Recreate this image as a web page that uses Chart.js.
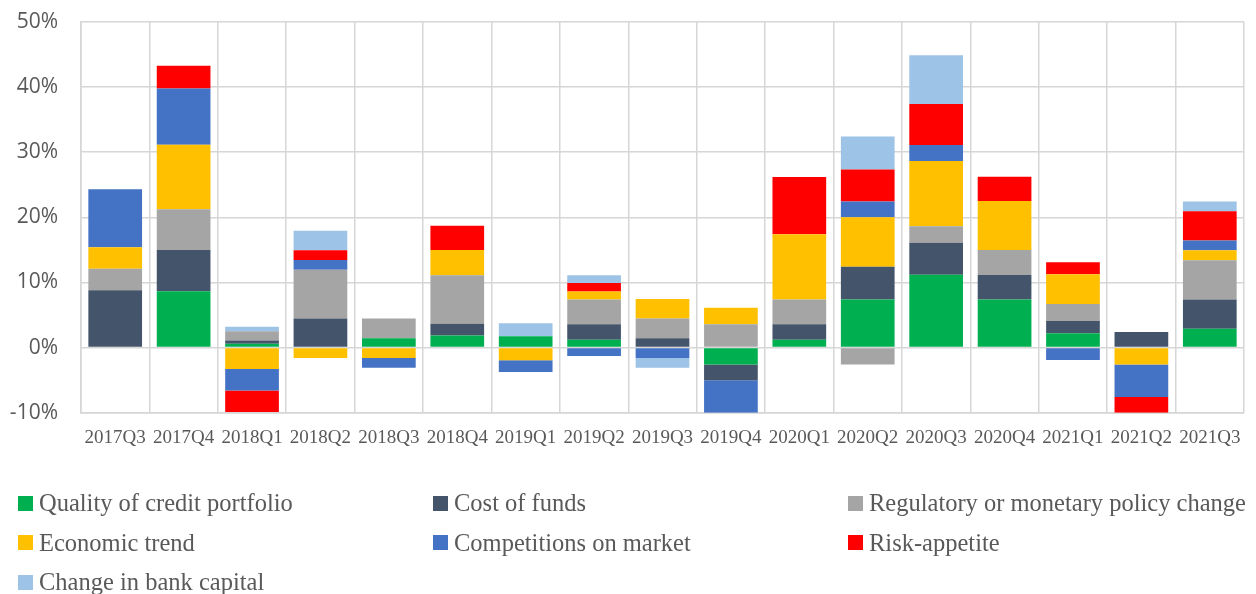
<!DOCTYPE html>
<html>
<head>
<meta charset="utf-8">
<script src="https://cdn.jsdelivr.net/npm/chart.js@4/dist/chart.umd.min.js"></script>
<style>
html,body{margin:0;padding:0;background:#fff;}
#wrap{position:relative;width:1256px;height:594px;overflow:hidden;background:#fff;}
#chart{position:absolute;left:0;top:0;}
#legend{position:absolute;left:0;top:0;width:1256px;height:594px;font-family:"Liberation Serif","Times New Roman",serif;font-size:24.5px;color:#595959;}
.li{position:absolute;display:flex;align-items:center;white-space:nowrap;height:30px;}
.sw{width:15px;height:15px;margin-right:6px;flex:none;}
</style>
</head>
<body>
<div id="wrap">
  <canvas id="chart" width="1256" height="460"></canvas>
  <div id="legend"></div>
</div>
<script>
const categories = ['2017Q3','2017Q4','2018Q1','2018Q2','2018Q3','2018Q4','2019Q1','2019Q2','2019Q3','2019Q4','2020Q1','2020Q2','2020Q3','2020Q4','2021Q1','2021Q2','2021Q3'];

const seriesNames = ['Quality of credit portfolio','Cost of funds','Regulatory or monetary policy change','Economic trend','Competitions on market','Risk-appetite','Change in bank capital'];

const qualityOfCredit   = [0, 8.65, 0.6, 0, 1.45, 1.85, 1.75, 1.2, 0, -2.6, 1.2, 7.4, 11.2, 7.4, 2.2, 0, 2.9];
const costOfFunds       = [8.8, 6.35, 0.5, 4.45, 0, 1.8, 0, 2.4, 1.45, -2.4, 2.4, 5.0, 4.9, 3.75, 1.9, 2.4, 4.5];
const regulatoryPolicy  = [3.3, 6.25, 1.4, 7.5, 3.0, 7.45, 0, 3.8, 3.0, 3.6, 3.8, -2.6, 2.55, 3.85, 2.6, 0, 6.0];
const economicTrend     = [3.3, 9.9, -3.3, -1.6, -1.6, 3.9, -1.95, 1.2, 3.0, 2.5, 10.0, 7.6, 10.0, 7.5, 4.55, -2.6, 1.55];
const competition       = [8.9, 8.65, -3.3, 1.5, -1.5, 0, -1.8, -1.3, -1.6, -5.0, 0, 2.45, 2.45, 0, -1.9, -5.0, 1.5];
const riskAppetite      = [0, 3.5, -3.3, 1.5, 0, 3.7, 0, 1.3, 0, 0, 8.8, 4.9, 6.3, 3.75, 1.85, -2.4, 4.5];
const bankCapital       = [0, 0, 0.7, 3.0, 0, 0, 2.0, 1.2, -1.5, 0, 0, 5.05, 7.5, 0, 0, 0, 1.5];

const yTicks = [-10, 0, 10, 20, 30, 40, 50];

const seriesValues = [qualityOfCredit, costOfFunds, regulatoryPolicy, economicTrend, competition, riskAppetite, bankCapital];
const seriesColors = ['#00B050','#44546A','#A5A5A5','#FFC000','#4472C4','#FF0000','#9DC3E6'];

const datasets = seriesNames.map((name, i) => ({
  label: name,
  data: seriesValues[i],
  backgroundColor: seriesColors[i],
  borderWidth: 0,
  barPercentage: 0.785,
  categoryPercentage: 1.0
}));

const gridColor = '#d6d6d6';

const chart = new Chart(document.getElementById('chart'), {
  type: 'bar',
  data: { labels: categories, datasets: datasets },
  options: {
    responsive: false,
    animation: false,
    layout: { padding: { left: 0, right: 12, top: 22, bottom: 0 } },
    plugins: { legend: { display: false }, tooltip: { enabled: false } },
    scales: {
      x: {
        stacked: true,
        grid: { color: gridColor, lineWidth: 1.5, offset: true, drawTicks: false },
        border: { display: true, color: gridColor, width: 1.5 },
        ticks: {
          color: '#595959',
          font: { family: '"Liberation Serif", "Times New Roman", serif', size: 19 },
          padding: 14, maxRotation: 0, autoSkip: false
        },
        afterFit: (s) => { s.height = 47.3; s.paddingLeft = 0; s.paddingRight = 0; }
      },
      y: {
        stacked: true,
        min: yTicks[0],
        max: yTicks[yTicks.length - 1],
        afterBuildTicks: (s) => { s.ticks = yTicks.map(v => ({ value: v })); },
        grid: { color: gridColor, lineWidth: 1.5, drawTicks: false },
        border: { display: true, color: gridColor, width: 1.5 },
        ticks: {
          color: '#595959',
          font: { family: '"Open Sans", "Liberation Sans", sans-serif', size: 21 },
          padding: 23,
          callback: (v) => v + '%'
        },
        afterFit: (s) => { s.width = 81; s.paddingTop = 0; s.paddingBottom = 0; }
      }
    }
  }
});

// HTML legend built from the chart's datasets, laid out in three columns
const legendEl = document.getElementById('legend');
const colX = [18, 433, 848];
const rowY = [503, 542.5, 582];
chart.data.datasets.forEach((ds, i) => {
  const item = document.createElement('div');
  item.className = 'li';
  item.style.left = colX[i % 3] + 'px';
  item.style.top = (rowY[Math.floor(i / 3)] - 15) + 'px';
  const sw = document.createElement('span');
  sw.className = 'sw';
  sw.style.background = ds.backgroundColor;
  const tx = document.createElement('span');
  tx.textContent = ds.label;
  item.appendChild(sw);
  item.appendChild(tx);
  legendEl.appendChild(item);
});
</script>
</body>
</html>
